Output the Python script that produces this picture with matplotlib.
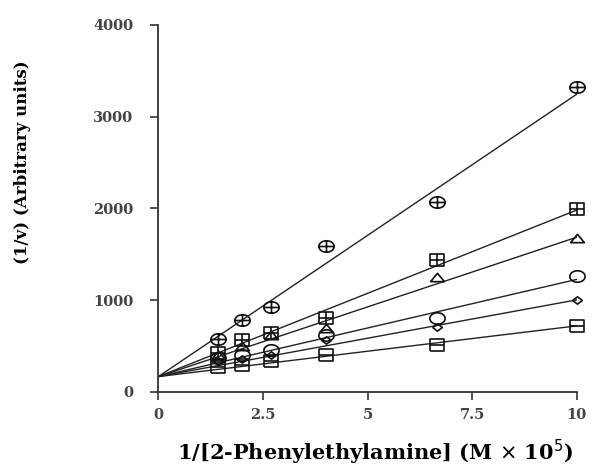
import numpy as np
import matplotlib
matplotlib.use("Agg")
from matplotlib import pyplot as plt
from matplotlib.path import Path

# 1/[S] values (M x 10^5)
inv_s = [1.43, 2.0, 2.7, 4.0, 6.67, 10.0]

# 1/v at each inhibitor level
oplus = [570, 779, 924, 1587, 2065, 3323]
sq_plus = [420, 560, 640, 800, 1432, 1993]
tri = [400, 500, 620, 700, 1250, 1680]
circ = [370, 400, 450, 620, 801, 1258]
diam = [340, 360, 400, 560, 707, 1004]
sq_minus = [270, 290, 340, 400, 505, 714]

# fitted lines share a common intercept
intercept = 165
slopes = [308, 181.6, 152, 106, 83.7, 55.3]


def ellipse_plus(plus=True):
    t = np.linspace(0, 2*np.pi, 40)
    verts = list(zip(np.cos(t), 0.75*np.sin(t)))
    codes = [Path.MOVETO] + [Path.LINETO]*(len(t)-1)
    if plus:
        verts += [(-1, 0), (1, 0), (0, -0.75), (0, 0.75)]
        codes += [Path.MOVETO, Path.LINETO, Path.MOVETO, Path.LINETO]
    return Path(verts, codes)


def box(hline=False, vline=False):
    verts = [(-1, -0.85), (1, -0.85), (1, 0.85), (-1, 0.85), (-1, -0.85)]
    codes = [Path.MOVETO] + [Path.LINETO]*4
    if hline:
        verts += [(-1, 0), (1, 0)]
        codes += [Path.MOVETO, Path.LINETO]
    if vline:
        verts += [(0, -0.85), (0, 0.85)]
        codes += [Path.MOVETO, Path.LINETO]
    return Path(verts, codes)


def tri_marker():
    verts = [(-1, -0.6), (1, -0.6), (0, 0.6), (-1, -0.6)]
    codes = [Path.MOVETO] + [Path.LINETO]*3
    return Path(verts, codes)


def diamond():
    verts = [(-1, 0), (0, 0.75), (1, 0), (0, -0.75), (-1, 0)]
    codes = [Path.MOVETO] + [Path.LINETO]*4
    return Path(verts, codes)


series = [
    (oplus, ellipse_plus(True), 11),
    (sq_plus, box(True, True), 10),
    (tri, tri_marker(), 10),
    (circ, ellipse_plus(False), 11),
    (diam, diamond(), 7),
    (sq_minus, box(True, False), 10),
]

fig = plt.figure(figsize=(5.97, 4.68), dpi=100)
ax = fig.add_axes([0.2653, 0.163, 0.7007, 0.7836])

xx = np.array([0, 10])
for (ys, mk, ms), k in zip(series, slopes):
    ax.plot(xx, intercept + k*xx, color='#222222', lw=1.0, zorder=2)
    ax.plot(inv_s, ys, linestyle='none', marker=mk, markersize=ms,
            mfc='none', mec='#111111', mew=1.2, clip_on=False, zorder=3)

ax.set_xlim(0, 10)
ax.set_ylim(0, 4000)
ax.set_xticks([0, 2.5, 5, 7.5, 10])
ax.set_xticklabels(['0', '2.5', '5', '7.5', '10'])
ax.set_yticks([0, 1000, 2000, 3000, 4000])

for s in ['top', 'right']:
    ax.spines[s].set_visible(False)
for s in ['left', 'bottom']:
    ax.spines[s].set_linewidth(1.3)
    ax.spines[s].set_color('#333333')

ax.tick_params(direction='out', length=6, width=1.2, color='#333333',
               labelsize=10.5, labelcolor='#444444')
ax.tick_params(axis='y', pad=12)
ax.tick_params(axis='x', pad=6)
for lab in ax.get_xticklabels() + ax.get_yticklabels():
    lab.set_family('DejaVu Serif')
    lab.set_fontweight('bold')

ax.set_xlabel('1/[2-Phenylethylamine] (M $\\times$ 10$^5$)',
              family='DejaVu Serif', fontweight='bold', fontsize=15)
ax.xaxis.set_label_coords(0.518, -0.125)
ax.set_ylabel('(1/v) (Arbitrary units)', family='DejaVu Serif',
              fontweight='bold', fontsize=12)
ax.yaxis.set_label_coords(-0.305, 0.626)

fig.savefig('out.png', dpi=100)
